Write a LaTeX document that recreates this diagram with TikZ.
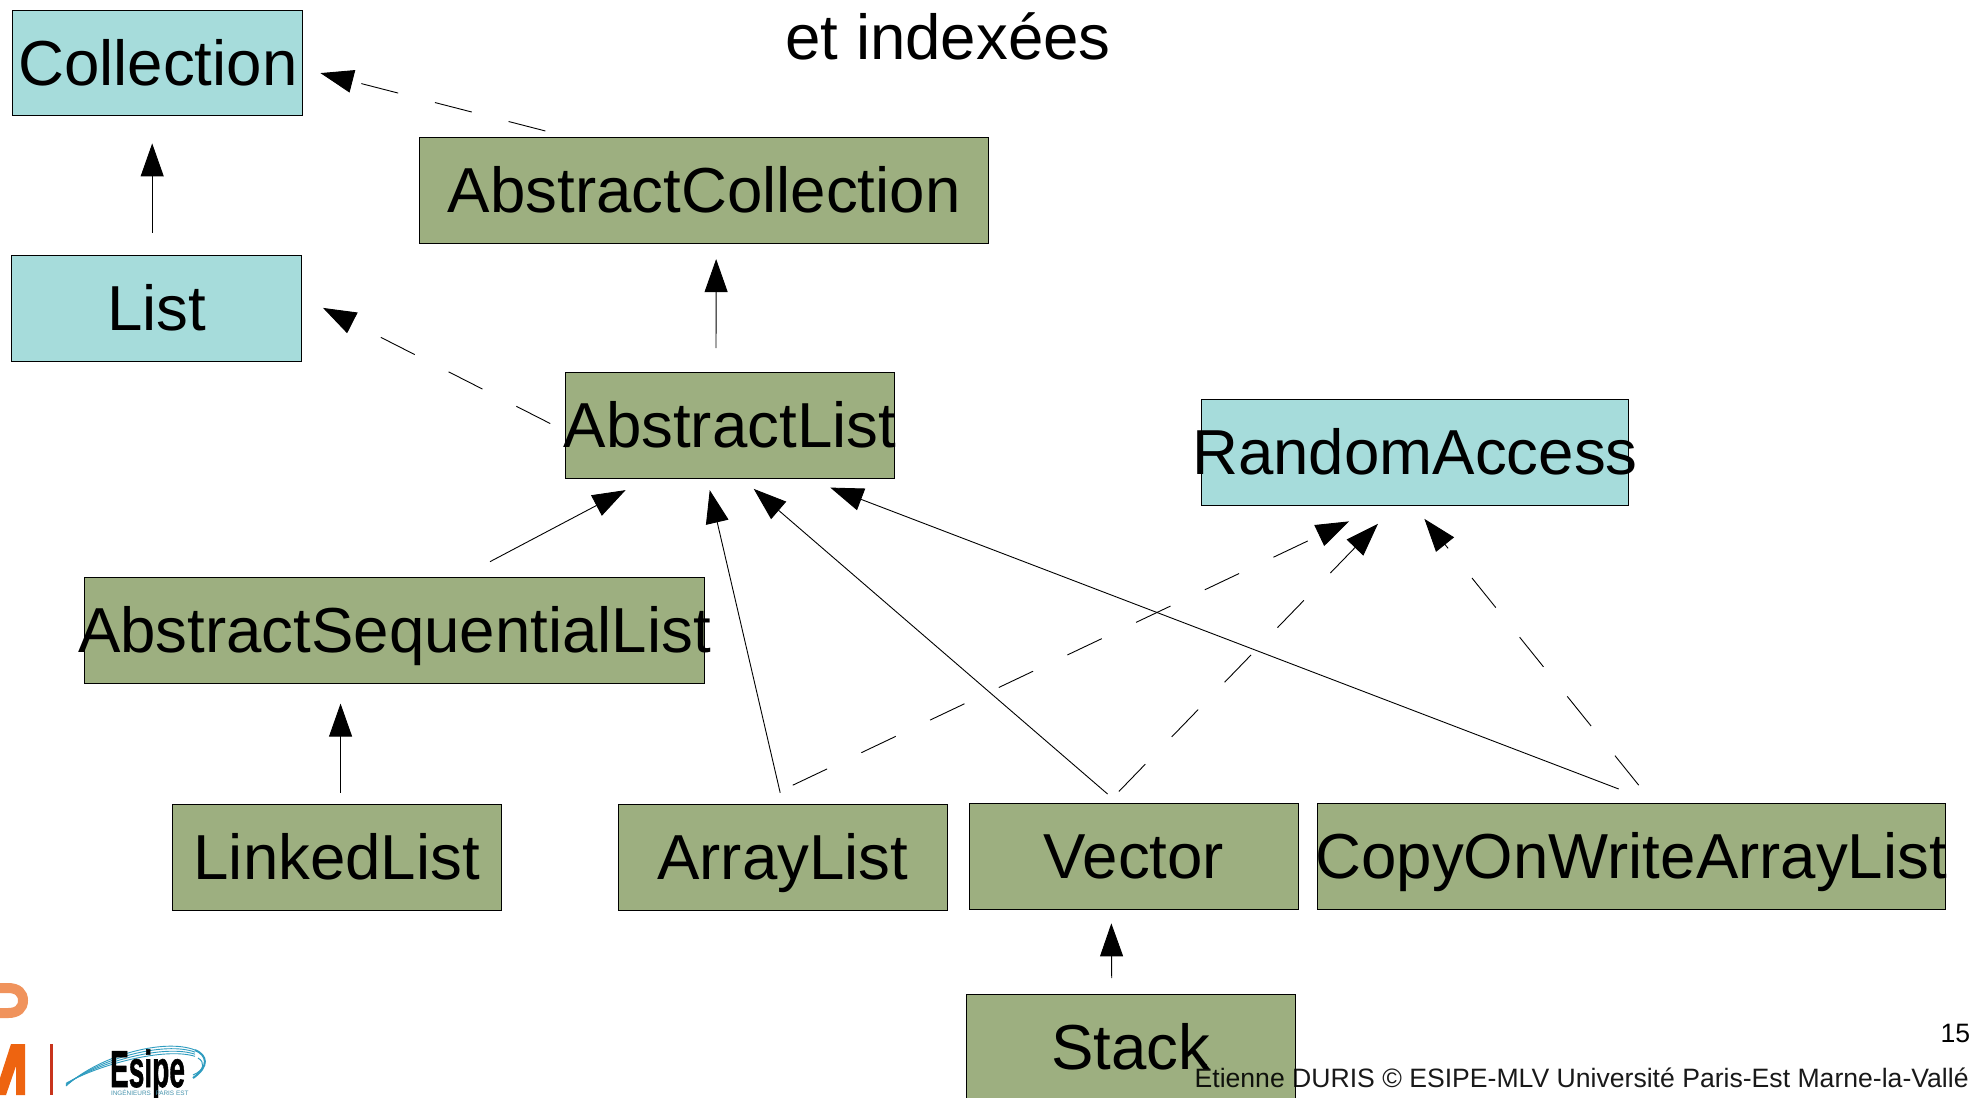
\documentclass[tikz,border=0pt]{standalone}
\usepackage{fontspec}
\usepackage{graphicx}
\setmainfont{Liberation Sans}
\newfontfamily\esipefont[FakeBold=1.2]{Liberation Sans Bold}
\usetikzlibrary{arrows.meta}
\definecolor{ifacecol}{HTML}{A6DCDB}
\definecolor{classcol}{HTML}{9DAF80}
\definecolor{logoorange}{HTML}{EE6410}
\definecolor{logolight}{HTML}{F0935C}
\definecolor{logored}{HTML}{C8341C}
\definecolor{logoblue}{HTML}{2E9CC0}
\newlength{\unitpx}
\setlength{\unitpx}{0.62785pt}
\tikzset{
  x=\unitpx, y=-\unitpx,
  boxbase/.style={draw=black, line width=0.45pt, inner sep=0pt, outer sep=0pt,
    text height=22pt, text depth=0pt, font=\fontsize{31.8}{32}\selectfont},
  iface/.style={boxbase, fill=ifacecol},
  klass/.style={boxbase, fill=classcol},
  solidarrow/.style={line width=0.45pt, -{Triangle[length=16.5pt,width=11.5pt]}},
  dasharrow/.style={solidarrow, dash pattern=on 19pt off 19pt},
}
\newcommand{\bx}[1]{\makebox[0pt]{#1}}
\begin{document}
\begin{tikzpicture}
\clip (0,0) rectangle (1568,873.6);
\fill[white] (0,0) rectangle (1568,873.6);

\node[iface, minimum width=231\unitpx, minimum height=84\unitpx] (coll) at (125.7,50.2) {\bx{Collection}};
\node[iface, minimum width=231\unitpx, minimum height=84.5\unitpx] (list) at (124.7,245.7) {\bx{List}};
\node[klass, minimum width=453\unitpx, minimum height=84.5\unitpx] (ac) at (560.8,151.8) {\bx{AbstractCollection}};
\node[klass, minimum width=262\unitpx, minimum height=84.5\unitpx] (al) at (581.2,338.8) {\bx{AbstractList}};
\node[iface, minimum width=340.5\unitpx, minimum height=84\unitpx] (ra) at (1126.8,360.2) {\bx{RandomAccess}};
\node[klass, minimum width=494\unitpx, minimum height=84.5\unitpx] (asl) at (314.2,501.8) {\bx{AbstractSequentialList}};
\node[klass, minimum width=262\unitpx, minimum height=84.5\unitpx] (ll) at (268.2,682.8) {\bx{LinkedList}};
\node[klass, minimum width=262\unitpx, minimum height=84.5\unitpx] (arl) at (623.3,682.8) {\bx{ArrayList}};
\node[klass, minimum width=262\unitpx, minimum height=84.5\unitpx] (vec) at (903,681.8) {\bx{Vector}};
\node[klass, minimum width=500\unitpx, minimum height=84.5\unitpx] (cow) at (1299,681.8) {\bx{CopyOnWriteArrayList}};
\node[klass, minimum width=262\unitpx, minimum height=84.5\unitpx] (stk) at (900.3,834.5) {\bx{Stack}};

\draw[solidarrow] ([shift={(-3.5,-60.5)}]list.center) -- ([shift={(-4.5,64)}]coll.center);
\draw[dasharrow] ([shift={(-126.5,-47.5)}]ac.center) -- ([shift={(129.5,8)}]coll.center);
\draw[dasharrow] ([shift={(-143,-1.5)}]al.center) -- ([shift={(132.5,-0.5)}]list.center);
\draw[solidarrow] ([shift={(-11,-61.5)}]al.center) -- ([shift={(9.5,54.5)}]ac.center);
\draw[solidarrow] ([shift={(76,-54.5)}]asl.center) -- ([shift={(-83,51.5)}]al.center);
\draw[solidarrow] ([shift={(-2,-51.5)}]arl.center) -- ([shift={(-16,51.5)}]al.center);
\draw[solidarrow] ([shift={(-21,-49.5)}]vec.center) -- ([shift={(19,50.5)}]al.center);
\draw[solidarrow] ([shift={(-10,-53.5)}]cow.center) -- ([shift={(80,49.5)}]al.center);
\draw[dasharrow] ([shift={(8,-57.5)}]arl.center) -- ([shift={(-52.5,55)}]ra.center);
\draw[dasharrow] ([shift={(-12,-51.5)}]vec.center) -- ([shift={(-29.5,57)}]ra.center);
\draw[dasharrow] ([shift={(6,-56.5)}]cow.center) -- ([shift={(7.5,53)}]ra.center);
\draw[solidarrow] ([shift={(3,-51.5)}]ll.center) -- ([shift={(-43,58.5)}]asl.center);
\draw[solidarrow] ([shift={(-15,-55.5)}]stk.center) -- ([shift={(-18,53.5)}]vec.center);

\node[anchor=base, inner sep=0pt, font=\fontsize{31.8}{32}\selectfont] (title) at (755,47.5) {et indexées};
\node[anchor=base west, inner sep=0pt, font=\fontsize{13.3}{13.3}\selectfont, text opacity=0.9] (foot) at (951,866) {Étienne DURIS © ESIPE-MLV Université Paris-Est Marne-la-Vallée};
\node[anchor=base west, inner sep=0pt, font=\fontsize{13.3}{13.3}\selectfont] (page) at (1545,830) {15};

\begin{scope}[x=0.5pt,y=-0.5pt]
  % partial logo at the left edge
  \draw[logolight, line width=5pt] (-2,988) -- (8,988) .. controls (18,988) and (23,993) .. (23,1000.5)
     .. controls (23,1008) and (18,1013) .. (8,1013) -- (-2,1013);
  \fill[logoorange] (11,1044) -- (25,1044) -- (25,1095) -- (16,1095) -- (16,1066) -- (6,1095) -- (0,1095) -- (0,1078) -- cycle;
  \fill[logored] (50,1044) rectangle (53,1095);
  % Esipe swoosh
  \foreach \d in {0,3,6,9}{
    \draw[logoblue, line width=0.45pt] (66,1086-\d*0.3) .. controls (100,1055+\d) and (165,1038+\d) .. (195,1050+\d*0.7);
  }
  \draw[logoblue, line width=1pt] (195,1050) .. controls (207,1055) and (210,1066) .. (193,1078);
  \draw[logoblue, line width=0.5pt] (198,1058) .. controls (205,1062) and (205,1070) .. (193,1075);
  \node[anchor=base, inner sep=0pt, font=\esipefont\fontsize{26}{26}\selectfont] (esipe) at (147.5,1087) {\scalebox{.54}[1]{Esipe}};
  \node[anchor=base, inner sep=0pt, text=logoblue!70!gray, font=\fontsize{3.2}{3.2}\selectfont] (ing) at (131,1095) {INGÉNIEURS};
  \node[anchor=base, inner sep=0pt, text=logoblue!70!gray, font=\fontsize{3.2}{3.2}\selectfont] (pe) at (172,1095) {PARIS EST};
\end{scope}
\end{tikzpicture}
\end{document}
